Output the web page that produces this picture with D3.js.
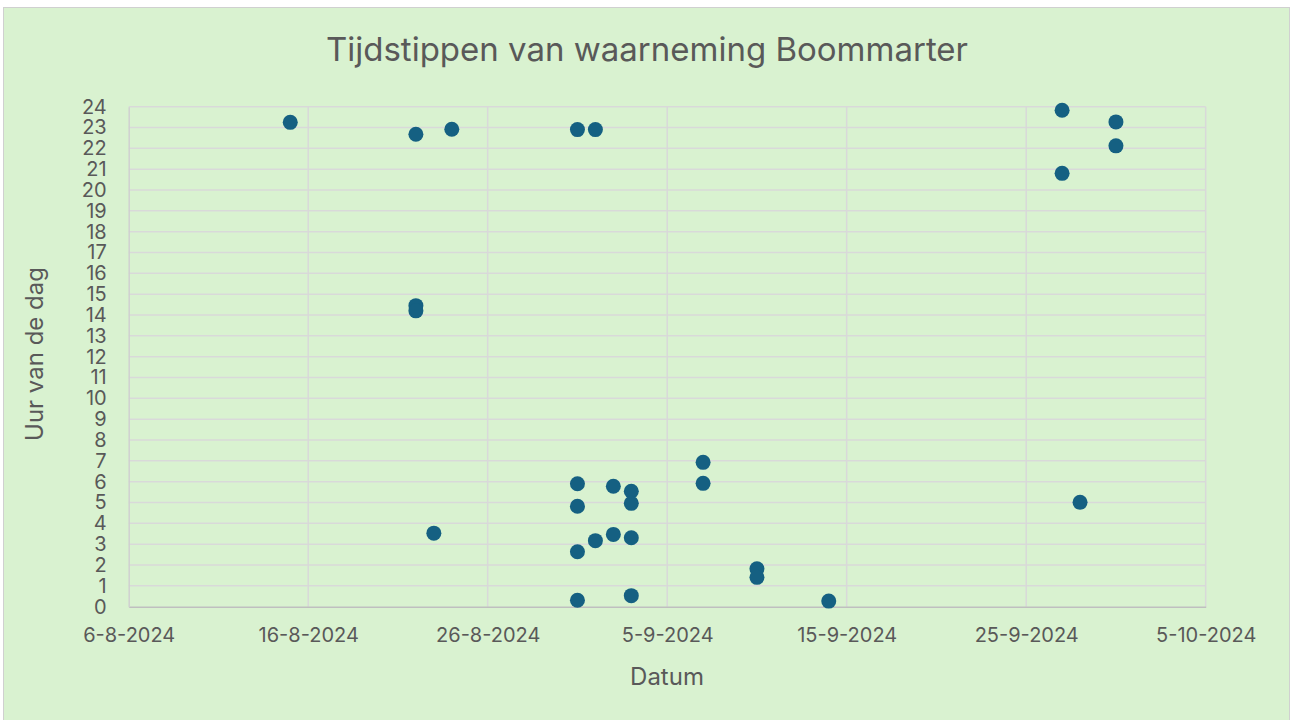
<!DOCTYPE html>
<html><head><meta charset="utf-8">
<script src="https://cdn.jsdelivr.net/npm/d3@7"></script>
<style>body{margin:0;background:#fff}svg{display:block}</style>
</head><body>
<svg id="c" width="1293" height="720"></svg>
<script>
const dates = ["2024-08-15","2024-08-22","2024-08-24","2024-08-31","2024-09-01",
  "2024-08-22","2024-08-22","2024-08-23",
  "2024-08-31","2024-08-31","2024-08-31","2024-08-31","2024-09-01",
  "2024-09-02","2024-09-02","2024-09-03","2024-09-03","2024-09-03","2024-09-03",
  "2024-09-07","2024-09-07","2024-09-10","2024-09-10","2024-09-14",
  "2024-09-27","2024-09-30","2024-09-30","2024-09-27","2024-09-28"];
const hours = [23.25,22.68,22.92,22.9,22.9,
  14.45,14.2,3.53,
  5.9,4.82,2.64,0.31,3.17,
  5.78,3.47,5.54,4.96,3.31,0.53,
  6.93,5.92,1.82,1.41,0.27,
  23.83,23.27,22.12,20.8,5.01];
const xTickLabels = ["6-8-2024","16-8-2024","26-8-2024","5-9-2024","15-9-2024","25-9-2024","5-10-2024"];
const yTicks = d3.range(0,25);
const title = "Tijdstippen van waarneming Boommarter";
const xTitle = "Datum", yTitle = "Uur van de dag";

const parse = d3.timeParse("%Y-%m-%d");
const fmtIn = d3.timeParse("%d-%m-%Y");
const xTickDates = xTickLabels.map(fmtIn);
const svg = d3.select("#c");
const font = "Inter, 'Open Sans', sans-serif";
const txt = "#595959";
const L=128.7,R=1205.7,T=106.7,B=606.7;

svg.append("rect").attr("x",3.5).attr("y",7.5).attr("width",1286).attr("height",716)
  .attr("fill","#d9f2d0").attr("stroke","#d0d0d0").attr("stroke-width",1);

const x = d3.scaleTime().domain([xTickDates[0], xTickDates[xTickDates.length-1]]).range([L,R]);
const y = d3.scaleLinear().domain([0,24]).range([B,T]);

// gridlines
svg.append("g").selectAll("line").data(yTicks.slice(1)).join("line")
  .attr("x1",L).attr("x2",R).attr("y1",d=>y(d)).attr("y2",d=>y(d))
  .attr("stroke","#d9d9d9").attr("stroke-width",1.5);
svg.append("g").selectAll("line").data(xTickDates.slice(1)).join("line")
  .attr("x1",d=>x(d)).attr("x2",d=>x(d)).attr("y1",T).attr("y2",B)
  .attr("stroke","#d9d9d9").attr("stroke-width",1.5);

// axes
const xAxis = svg.append("g").attr("transform",`translate(0,${B})`)
  .call(d3.axisBottom(x).tickValues(xTickDates).tickSize(0).tickPadding(21)
    .tickFormat((d,i)=>xTickLabels[i]));
xAxis.select(".domain").attr("stroke","#bfbfbf").attr("stroke-width",1.5);
xAxis.selectAll("text").attr("font-family",font).attr("font-size",20).attr("fill",txt);

const yAxis = svg.append("g").attr("transform",`translate(${L},0)`)
  .call(d3.axisLeft(y).tickValues(yTicks).tickSize(0).tickPadding(22).tickFormat(d3.format("d")));
yAxis.select(".domain").attr("stroke","#d0d0d0").attr("stroke-width",1.5);
yAxis.selectAll("text").attr("font-family",font).attr("font-size",20).attr("fill",txt);

// points
svg.append("g").selectAll("circle").data(dates.map((d,i)=>({d:parse(d),h:hours[i]}))).join("circle")
  .attr("cx",p=>x(p.d)).attr("cy",p=>y(p.h)).attr("r",7.5).attr("fill","#156082");

// titles
svg.append("text").attr("x",647).attr("y",61).attr("text-anchor","middle")
  .attr("font-family",font).attr("font-size",33).attr("fill",txt).text(title);
svg.append("text").attr("x",667).attr("y",685).attr("text-anchor","middle")
  .attr("font-family",font).attr("font-size",24).attr("fill",txt).text(xTitle);
svg.append("text").attr("transform","translate(43,354) rotate(-90)").attr("text-anchor","middle")
  .attr("font-family",font).attr("font-size",24).attr("fill",txt).text(yTitle);
</script>
</body></html>
